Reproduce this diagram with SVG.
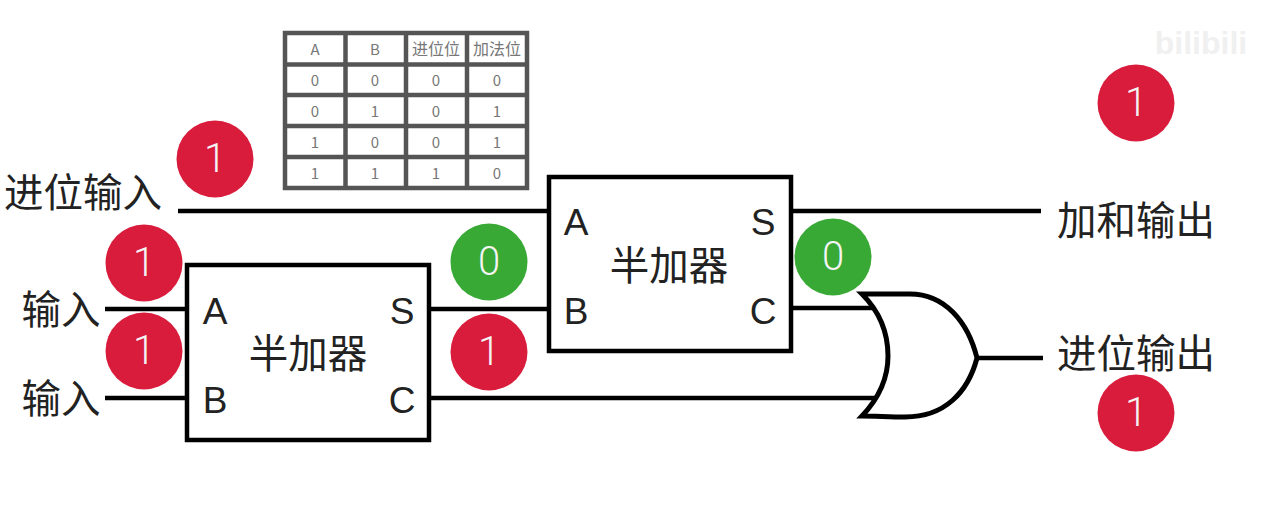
<svg xmlns="http://www.w3.org/2000/svg" width="1265" height="513" viewBox="0 0 1265 513">
<style>
text{font-family:"Noto Sans CJK SC","Liberation Sans",sans-serif;text-anchor:middle}
.w{stroke:#000;stroke-width:4.500;fill:none}
.box{fill:#fff;stroke:#000;stroke-width:4.500}
.lb{font-size:39.500px;fill:#222;font-family:"Noto Sans CJK SC",sans-serif}
.pin{font-size:37px;fill:#222;font-family:"Liberation Sans",sans-serif}
.r{fill:#d91c3c}.g{fill:#39a935}
.n{font-size:40px;fill:#f4f4f4;font-family:Roboto,"Liberation Sans",sans-serif;font-weight:300}
.t{font-size:15px;fill:#777;font-family:"Liberation Sans","Noto Sans CJK SC",sans-serif}
.h{font-size:16px}
.grid{stroke:#555;stroke-width:4.500;fill:none}
</style>
<rect width="1265" height="513" fill="#fff"/>
<g id="connectors">
<path class="w" d="M178 211H550M790 211H1041M105 309H188M105 398H188M428 309H550M790 308H880M428 398H880M975 358H1043"/>
</g>
<g id="truth-table">
<path class="grid" d="M285 33H527V188H285ZM285 64.500H527M285 95H527M285 126H527M285 157H527M345.500 33V188M406 33V188M467 33V188"/>
<g class="t">
<text x="315" y="55">A</text><text x="375" y="55">B</text><text class="h" x="436" y="55">进位位</text><text class="h" x="497" y="55">加法位</text>
<text x="315" y="86">0</text><text x="375" y="86">0</text><text x="436" y="86">0</text><text x="497" y="86">0</text>
<text x="315" y="117">0</text><text x="375" y="117">1</text><text x="436" y="117">0</text><text x="497" y="117">1</text>
<text x="315" y="148">1</text><text x="375" y="148">0</text><text x="436" y="148">0</text><text x="497" y="148">1</text>
<text x="315" y="179">1</text><text x="375" y="179">1</text><text x="436" y="179">1</text><text x="497" y="179">0</text>
</g>
</g>
<g id="half-adder-1">
<rect class="box" x="187" y="265" width="242" height="175"/>
<text class="lb" x="308" y="368">半加器</text>
<text class="pin" x="215" y="324">A</text><text class="pin" x="215" y="413">B</text>
<text class="pin" x="402" y="324">S</text><text class="pin" x="402" y="413">C</text>
</g>
<g id="half-adder-2">
<rect class="box" x="549" y="177" width="242" height="174"/>
<text class="lb" x="669" y="280">半加器</text>
<text class="pin" x="576" y="235">A</text><text class="pin" x="576" y="324">B</text>
<text class="pin" x="763" y="235">S</text><text class="pin" x="763" y="324">C</text>
</g>
<g id="or-gate">
<path d="M862 294H910C945 294 968 322 977 358C968 392 945 417 905 417C890 417 875 416 862 416C880 397 888 378 888 356C888 332 880 312 862 294Z" fill="#fff" stroke="#000" stroke-width="5" stroke-linejoin="miter"/>
</g>
<g id="labels">
<text class="lb" x="83" y="207">进位输入</text>
<text class="lb" x="61" y="324">输入</text>
<text class="lb" x="61" y="413">输入</text>
<text class="lb" x="1136" y="235">加和输出</text>
<text class="lb" x="1136" y="368">进位输出</text>
</g>
<g id="watermark" fill="#f0f0f0" font-weight="700">
<text x="1201" y="54" font-size="32" style="font-family:'Liberation Sans',sans-serif">bilibili</text>
</g>
<g id="signals">
<g id="s-carry-in"><circle class="r" cx="215" cy="159" r="38.500"/><text class="n" x="215" y="172">1</text></g>
<g id="s-a"><circle class="r" cx="144" cy="263" r="38.500"/><text class="n" x="144" y="276">1</text></g>
<g id="s-b"><circle class="r" cx="144" cy="351" r="38.500"/><text class="n" x="144" y="364">1</text></g>
<g id="s-s1-0"><circle class="g" cx="489" cy="262" r="38.500"/><text class="n" x="489" y="275">0</text></g>
<g id="s-s1-1"><circle class="r" cx="489" cy="352" r="38.500"/><text class="n" x="489" y="365">1</text></g>
<g id="s-c2"><circle class="g" cx="833" cy="257" r="38.500"/><text class="n" x="833" y="270">0</text></g>
<g id="s-sum"><circle class="r" cx="1136" cy="103" r="38.500"/><text class="n" x="1136" y="116">1</text></g>
<g id="s-carry-out"><circle class="r" cx="1136" cy="413" r="38.500"/><text class="n" x="1136" y="426">1</text></g>
</g>
</svg>
